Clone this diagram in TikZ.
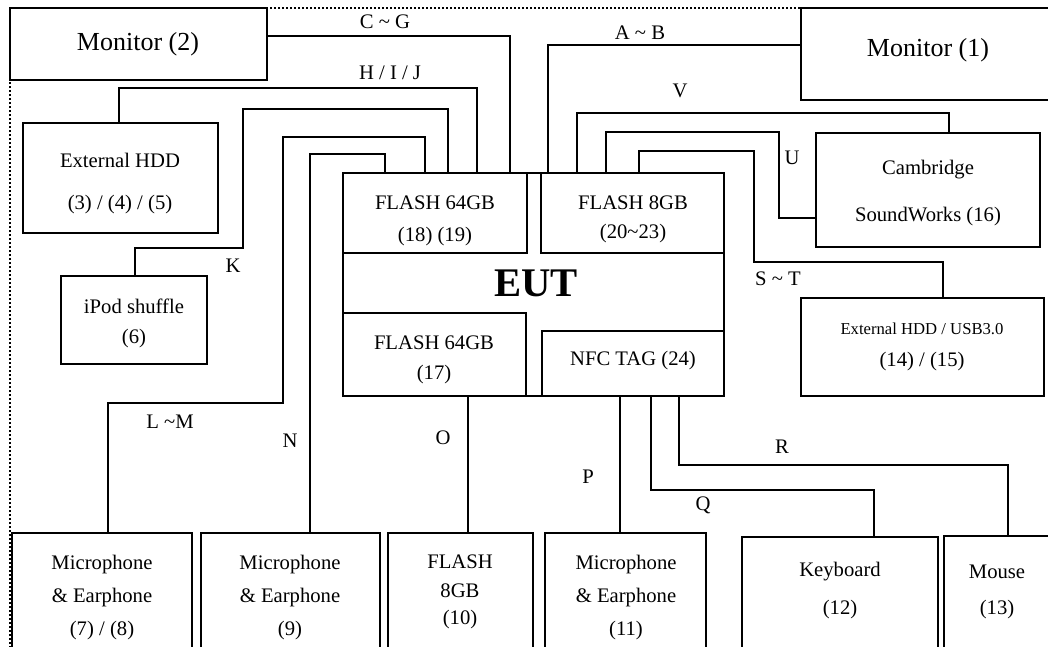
\documentclass[tikz,border=0pt]{standalone}
\usepackage{fontspec}
\setmainfont{Liberation Serif}
\usetikzlibrary{fit}
\begin{document}
\begin{tikzpicture}[x=0.75pt,y=-0.75pt,
  box/.style={draw, line width=1.3pt, rectangle, inner sep=0pt, fit={#1}},
  wire/.style={draw, line width=1.3pt},
  frame/.style={draw, line width=2.2pt, dash pattern=on 1.6pt off 1.4pt},
  txt/.style={inner sep=0pt, font=\fontsize{15.5}{18}\selectfont},
  bigtxt/.style={inner sep=0pt, font=\fontsize{19.5}{22}\selectfont},
  smalltxt/.style={inner sep=0pt, font=\fontsize{12.5}{15}\selectfont}]
\useasboundingbox (0,0) rectangle (1048,646);
\fill[white] (0,0) rectangle (1048,646);
% dotted frame
\path[frame] (10,660) -- (10,8) -- (1060,8);

% boxes
\node[box={(10,8) (267,80)}] (mon2) {};
\node[box={(801,8) (1070,100)}] (mon1) {};
\node[box={(23,123) (218,233)}] (hdd) {};
\node[box={(61,276) (207,364)}] (ipod) {};
\node[box={(816,133) (1040,247)}] (cam) {};
\node[box={(801,298) (1044,396)}] (usb) {};
\node[box={(343,173) (724,396)}] (eut) {};
\node[box={(343,173) (527,253)}] (f1819) {};
\node[box={(541,173) (724,253)}] (f8) {};
\node[box={(343,313) (526,396)}] (f17) {};
\node[box={(542,331) (724,396)}] (nfc) {};
\node[box={(12,533) (192,670)}] (mic78) {};
\node[box={(201,533) (380,670)}] (mic9) {};
\node[box={(388,533) (533,670)}] (fl10) {};
\node[box={(545,533) (706,670)}] (mic11) {};
\node[box={(742,537) (938,670)}] (kb) {};
\node[box={(944,536) (1070,670)}] (mouse) {};

% box texts
\node[bigtxt] at (138,44) {Monitor (2)};
\node[bigtxt] at (928,50) {Monitor (1)};
\node[txt] at (120,160) {External HDD};
\node[txt] at (120,205) {(3) / (4) / (5)};
\node[txt] at (134,306) {iPod shuffle};
\node[txt] at (134,339) {(6)};
\node[txt] at (928,170) {Cambridge};
\node[txt] at (928,217) {SoundWorks (16)};
\node[smalltxt] at (922,329) {External HDD / USB3.0};
\node[txt] at (922,362) {(14) / (15)};
\node[txt] at (435,203) {FLASH 64GB};
\node[txt] at (435,237) {(18) (19)};
\node[txt] at (633,203) {FLASH 8GB};
\node[txt] at (633,234) {(20\textasciitilde 23)};
\node[inner sep=0pt, font=\fontsize{30.5}{34}\selectfont\bfseries] at (536,283) {EUT};
\node[txt] at (434,343) {FLASH 64GB};
\node[txt] at (434,375) {(17)};
\node[txt] at (633,361) {NFC TAG (24)};
\node[txt] at (102,565) {Microphone};
\node[txt] at (102,598) {\&\ Earphone};
\node[txt] at (102,631) {(7) / (8)};
\node[txt] at (290,565) {Microphone};
\node[txt] at (290,598) {\&\ Earphone};
\node[txt] at (290,631) {(9)};
\node[txt] at (460,562) {FLASH};
\node[txt] at (460,591) {8GB};
\node[txt] at (460,620) {(10)};
\node[txt] at (626,565) {Microphone};
\node[txt] at (626,598) {\&\ Earphone};
\node[txt] at (626,631) {(11)};
\node[txt] at (840,572) {Keyboard};
\node[txt] at (840,610) {(12)};
\node[txt] at (997,572) {Mouse};
\node[txt] at (997,610) {(13)};

% connectors
\path[wire] (mon2.east |- 0,36) -| (f1819.north -| 510,0);
\path[wire] (hdd.north -| 119,0) |- (477,88) -- (f1819.north -| 477,0);
\path[wire] (ipod.north -| 135,0) |- (243,248) |- (448,109) -- (f1819.north -| 448,0);
\path[wire] (mic78.north -| 108,0) |- (283,403) |- (425,137) -- (f1819.north -| 425,0);
\path[wire] (mic9.north -| 310,0) |- (385,154) -- (f1819.north -| 385,0);
\path[wire] (mon1.west |- 0,45) -| (f8.north -| 548,0);
\path[wire] (cam.north -| 949,0) |- (577,113) -- (f8.north -| 577,0);
\path[wire] (cam.west |- 0,218) -| (779,132) -| (f8.north -| 606,0);
\path[wire] (usb.north -| 943,0) |- (754,262) |- (639,151) -- (f8.north -| 639,0);
\path[wire] (f17.south -| 468,0) -- (fl10.north -| 468,0);
\path[wire] (nfc.south -| 620,0) -- (mic11.north -| 620,0);
\path[wire] (nfc.south -| 651,0) |- (874,490) -- (kb.north -| 874,0);
\path[wire] (nfc.south -| 679,0) |- (1008,465) -- (mouse.north -| 1008,0);

% connector labels
\node[txt] at (385,22) {C \textasciitilde\ G};
\node[txt] at (390,73) {H / I / J};
\node[txt] at (233,266) {K};
\node[txt] at (170,422) {L \textasciitilde M};
\node[txt] at (290,441) {N};
\node[txt] at (443,438) {O};
\node[txt] at (588,477) {P};
\node[txt] at (703,505) {Q};
\node[txt] at (782,447) {R};
\node[txt] at (778,279) {S \textasciitilde\ T};
\node[txt] at (792,158) {U};
\node[txt] at (680,91) {V};
\node[txt] at (640,33) {A \textasciitilde\ B};
\end{tikzpicture}
\end{document}
